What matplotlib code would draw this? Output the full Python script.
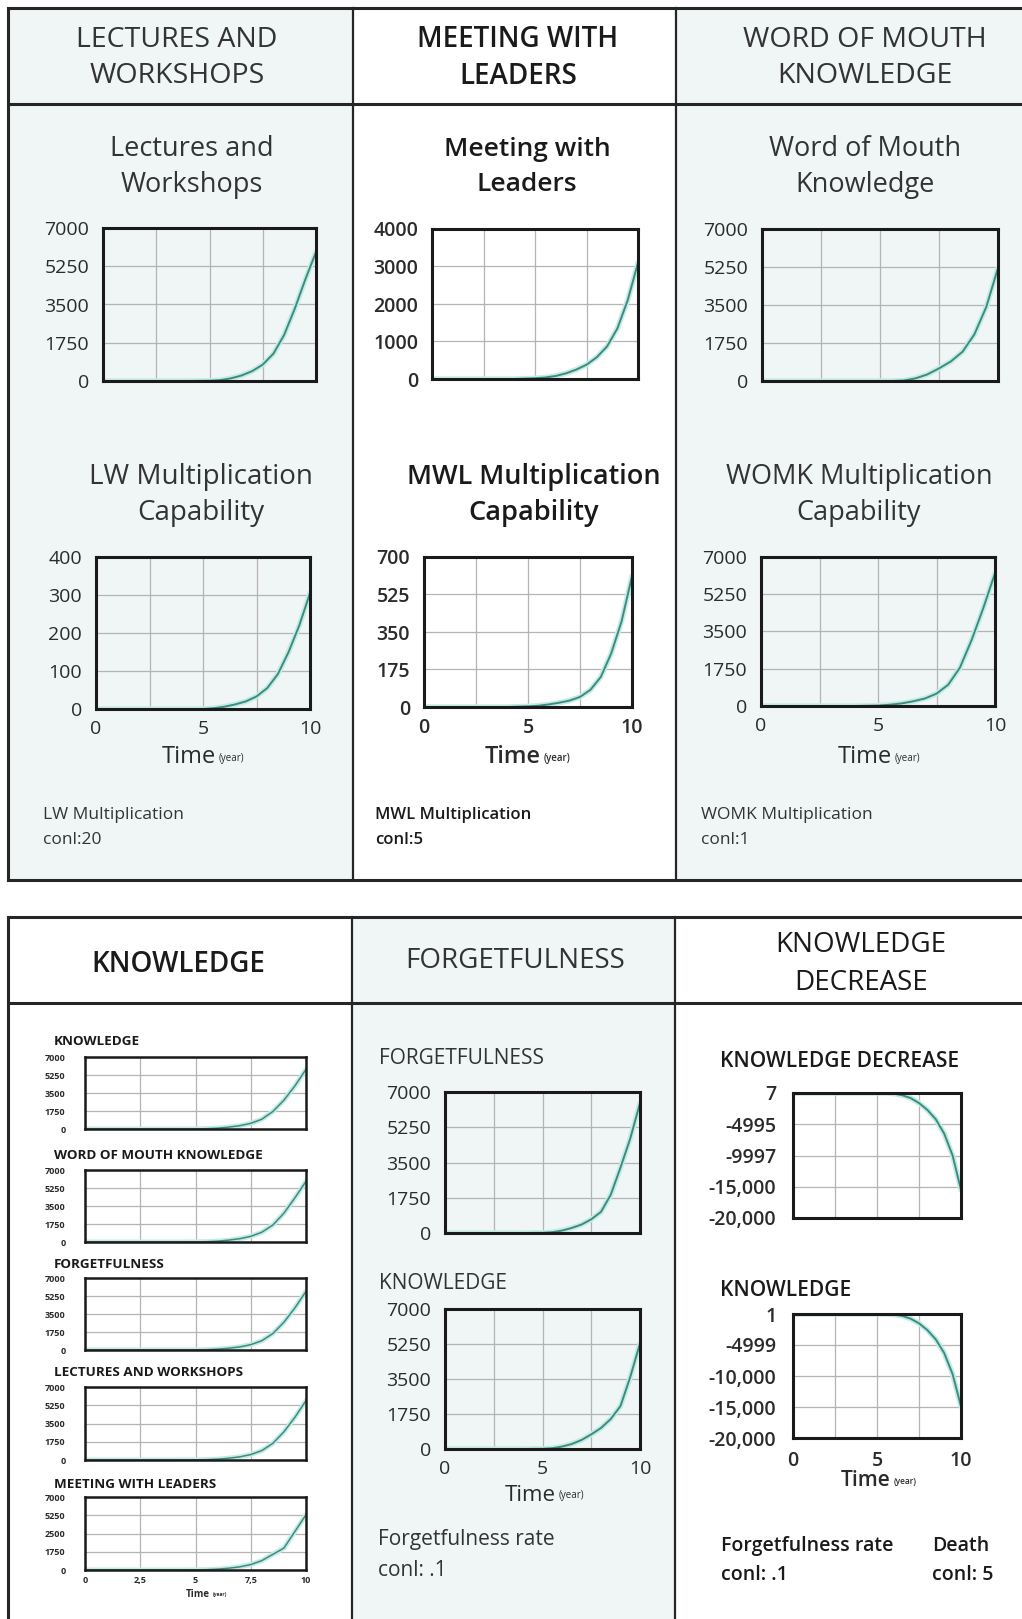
import matplotlib.pyplot as plt
from matplotlib.patches import Rectangle

W, H = 1022, 1619

# simulation time (year)
years = [0, 1, 2, 3, 4, 5, 5.5, 6, 6.5, 7, 7.5, 8, 8.5, 9, 9.5, 10]

# top panel - stocks
lw_knowledge = [0, 0, 0, 0, 0, 10, 40, 120, 250, 450, 750, 1250, 2100, 3300, 4650, 5900]
mwl_knowledge = [0, 0, 0, 0, 0, 20, 40, 80, 150, 250, 380, 580, 870, 1350, 2100, 3100]
womk_knowledge = [0, 0, 0, 0, 0, 0, 0, 20, 120, 300, 580, 900, 1350, 2150, 3400, 5200]

# top panel - multiplication capability
lw_mult = [0, 0, 0, 0, 0, 0, 2, 6, 12, 20, 33, 55, 92, 150, 220, 305]
mwl_mult = [0, 0, 0, 0, 0, 3, 6, 12, 20, 30, 47, 80, 140, 250, 400, 610]
womk_mult = [0, 0, 0, 0, 0, 20, 60, 120, 220, 350, 580, 1000, 1800, 3100, 4600, 6240]

# bottom panel - left column summary
sum_titles = ["KNOWLEDGE", "WORD OF MOUTH KNOWLEDGE", "FORGETFULNESS",
              "LECTURES AND WORKSHOPS", "MEETING WITH LEADERS"]
sum_knowledge = [0, 0, 0, 0, 0, 10, 30, 80, 180, 320, 550, 950, 1700, 2800, 4200, 5800]
sum_womk = [0, 0, 0, 0, 0, 10, 30, 80, 180, 320, 550, 950, 1650, 2800, 4300, 5900]
sum_forget = [0, 0, 0, 0, 0, 10, 30, 80, 170, 300, 520, 900, 1600, 2700, 4100, 5700]
sum_lw = [0, 0, 0, 0, 0, 10, 30, 80, 170, 300, 520, 900, 1600, 2700, 4100, 5700]
sum_mwl = [0, 0, 0, 0, 0, 10, 30, 80, 170, 300, 520, 900, 1500, 2100, 3700, 5300]
sum_series = [sum_knowledge, sum_womk, sum_forget, sum_lw, sum_mwl]
sum_ylabels = [["0", "1750", "3500", "5250", "7000"]] * 4 + [["0", "1750", "2500", "5250", "7000"]]

# bottom panel - forgetfulness column
forgetfulness = [0, 0, 0, 0, 0, 10, 40, 120, 250, 420, 680, 1050, 1900, 3250, 4690, 6450]
knowledge_f = [0, 0, 0, 0, 0, 10, 40, 120, 250, 450, 730, 1050, 1500, 2150, 3600, 5280]

# bottom panel - knowledge decrease column
knowledge_decrease = [7, 7, 7, 7, 7, 7, 7, -100, -350, -800, -1600, -2700, -4200, -6500, -10000, -15500]
knowledge_d = [1, 1, 1, 1, 1, 1, 1, -100, -300, -750, -1500, -2600, -4100, -6300, -9700, -14900]

ticks_7000 = [0, 1750, 3500, 5250, 7000]

PANEL = "#f0f5f6"
EDGE = "#262626"
GRID = "#b4b4b4"
TEAL = "#3b8c80"
GLOW = "#c6ebe5"
TXT = "#2b2b2b"

plt.rcParams['font.family'] = ['Open Sans', 'DejaVu Sans']

fig = plt.figure(figsize=(W / 100, H / 100), dpi=100)
fig.patch.set_facecolor("white")
bg = fig.add_axes([0, 0, 1, 1])
bg.set_xlim(0, W)
bg.set_ylim(H, 0)
bg.axis("off")

# panel backgrounds and frames
bg.add_patch(Rectangle((8, 8), 345, 872, facecolor=PANEL, edgecolor="none"))
bg.add_patch(Rectangle((676, 8), 360, 872, facecolor=PANEL, edgecolor="none"))
bg.add_patch(Rectangle((352, 917), 323, 720, facecolor=PANEL, edgecolor="none"))
for y in [8, 104, 880]:
    bg.plot([8, W + 5], [y, y], color=EDGE, lw=2.2)
for x in [8, 353, 676]:
    bg.plot([x, x], [8, 880], color=EDGE, lw=2.2 if x == 8 else 1.6)
for y in [917, 1003]:
    bg.plot([8, W + 5], [y, y], color=EDGE, lw=2.2)
for x in [8, 352, 675]:
    bg.plot([x, x], [917, H + 5], color=EDGE, lw=2.2 if x == 8 else 1.6)


def box_axes(x0, y0, x1, y1):
    return fig.add_axes([x0 / W, 1 - y1 / H, (x1 - x0) / W, (y1 - y0) / H])


def chart(box, values, ylim, yticks, ylabels, xlabels=None, fs=14, weight="normal",
          spine=2.2, lw=1.4, pad=10, xpad=8):
    ax = box_axes(*box)
    ax.set_facecolor("none")
    ax.plot(years, values, color=GLOW, lw=lw + 2.5, solid_capstyle="round", zorder=3)
    ax.plot(years, values, color=TEAL, lw=lw, zorder=4)
    ax.set_xlim(0, 10)
    ax.set_ylim(*ylim)
    ax.set_xticks([0, 2.5, 5, 7.5, 10])
    ax.set_yticks(yticks)
    ax.set_yticklabels(ylabels, fontsize=fs, fontweight=weight, color=TXT)
    if xlabels is None:
        ax.set_xticklabels([])
    else:
        ax.set_xticklabels(xlabels, fontsize=fs, fontweight=weight, color=TXT)
    ax.tick_params(length=0, pad=pad)
    ax.tick_params(axis="x", pad=xpad)
    ax.grid(color=GRID, lw=0.9)
    ax.set_axisbelow(True)
    for s in ax.spines.values():
        s.set_linewidth(spine)
        s.set_color("#1a1a1a")
        s.set_zorder(5)
    return ax


def time_label(ax, y, fs_big, fs_small, weight="normal", xfrac=0.56):
    t = ax.annotate("Time", xy=(xfrac, 0), xycoords="axes fraction", xytext=(0, -y),
                    textcoords="offset pixels", ha="right", va="center",
                    fontsize=fs_big, fontweight=weight, color=TXT)
    ax.annotate("(year)", xy=(1, 0.22), xycoords=t, xytext=(2, 0), textcoords="offset points",
                ha="left", va="bottom", fontsize=fs_small, fontweight=weight, color=TXT)


# ---- top panel headers ----
bg.text(177, 58, "LECTURES AND\nWORKSHOPS", ha="center", va="center", fontsize=20.5,
        color="#333333", linespacing=1.38)
bg.text(518, 58, "MEETING WITH\nLEADERS", ha="center", va="center", fontsize=20,
        fontweight="semibold", color="#1a1a1a", linespacing=1.38)
bg.text(865, 58, "WORD OF MOUTH\nKNOWLEDGE", ha="center", va="center", fontsize=20.5,
        color="#333333", linespacing=1.38)

bg.text(192, 167, "Lectures and\nWorkshops", ha="center", va="center", fontsize=19.5,
        color="#333333", linespacing=1.35)
bg.text(527, 167, "Meeting with\nLeaders", ha="center", va="center", fontsize=19,
        fontweight="semibold", color="#1a1a1a", linespacing=1.5)
bg.text(865, 167, "Word of Mouth\nKnowledge", ha="center", va="center", fontsize=19.5,
        color="#333333", linespacing=1.35)

chart((103, 228, 316, 381), lw_knowledge, (0, 7000), ticks_7000,
      ["0", "1750", "3500", "5250", "7000"])
chart((432, 229, 638, 379), mwl_knowledge, (0, 4000), [0, 1000, 2000, 3000, 4000],
      ["0", "1000", "2000", "3000", "4000"], weight="semibold")
chart((762, 229, 998, 381), womk_knowledge, (0, 7000), ticks_7000,
      ["0", "1750", "3500", "5250", "7000"])

bg.text(201, 495, "LW Multiplication\nCapability", ha="center", va="center", fontsize=20,
        color="#333333", linespacing=1.38)
bg.text(534, 495, "MWL Multiplication\nCapability", ha="center", va="center", fontsize=19.5,
        fontweight="semibold", color="#1a1a1a", linespacing=1.38)
bg.text(859, 495, "WOMK Multiplication\nCapability", ha="center", va="center", fontsize=19.5,
        color="#333333", linespacing=1.38)

a = chart((96, 557, 310, 709), lw_mult, (0, 400), [0, 100, 200, 300, 400],
          ["0", "100", "200", "300", "400"], xlabels=["0", "", "5", "", "10"])
time_label(a, 48, 17, 7)
a = chart((424, 557, 632, 707), mwl_mult, (0, 700), [0, 175, 350, 525, 700],
          ["0", "175", "350", "525", "700"], xlabels=["0", "", "5", "", "10"], weight="semibold")
time_label(a, 50, 17, 7, weight="semibold")
a = chart((761, 557, 995, 706), womk_mult, (0, 7000), ticks_7000,
          ["0", "1750", "3500", "5250", "7000"], xlabels=["0", "", "5", "", "10"])
time_label(a, 51, 17, 7)

bg.text(43, 827, "LW Multiplication\nconl:20", ha="left", va="center", fontsize=12.5,
        color="#333333", linespacing=1.75)
bg.text(375, 827, "MWL Multiplication\nconl:5", ha="left", va="center", fontsize=12,
        fontweight="semibold", color="#1a1a1a", linespacing=1.75)
bg.text(701, 827, "WOMK Multiplication\nconl:1", ha="left", va="center", fontsize=12.5,
        color="#333333", linespacing=1.75)

# ---- bottom panel headers ----
bg.text(178, 964, "KNOWLEDGE", ha="center", va="center", fontsize=20,
        fontweight="semibold", color="#1a1a1a")
bg.text(515, 961, "FORGETFULNESS", ha="center", va="center", fontsize=20,
        color="#333333")
bg.text(861, 964, "KNOWLEDGE\nDECREASE", ha="center", va="center", fontsize=20,
        color="#1a1a1a", linespacing=1.45)

# left column: five small summary charts
sum_boxes = [(85, 1057, 306, 1129), (85, 1170, 306, 1242), (85, 1278, 306, 1350),
             (85, 1387, 306, 1460), (85, 1497, 306, 1570)]
sum_title_y = [1041, 1155, 1264, 1372, 1484]
for i in range(5):
    xl = ["0", "2,5", "5", "7,5", "10"] if i == 4 else None
    a = chart(sum_boxes[i], sum_series[i], (0, 7000), ticks_7000, sum_ylabels[i], xlabels=xl,
              fs=6.5, weight="bold", spine=1.8, lw=1.1, pad=14, xpad=4)
    bg.text(54, sum_title_y[i], sum_titles[i], ha="left", va="center", fontsize=9.7,
            fontweight="bold", color="#1a1a1a")
    if i == 4:
        time_label(a, 24, 7, 3.5, weight="bold", xfrac=0.565)

# middle column
bg.text(379, 1058, "FORGETFULNESS", ha="left", va="center", fontsize=15, color="#333333")
chart((445, 1092, 640, 1233), forgetfulness, (0, 7000), ticks_7000,
      ["0", "1750", "3500", "5250", "7000"])
bg.text(379, 1283, "KNOWLEDGE", ha="left", va="center", fontsize=15, color="#333333")
a = chart((445, 1309, 640, 1449), knowledge_f, (0, 7000), ticks_7000,
          ["0", "1750", "3500", "5250", "7000"], xlabels=["0", "", "5", "", "10"])
time_label(a, 46, 16, 7, xfrac=0.57)
bg.text(378, 1555, "Forgetfulness rate\nconl: .1", ha="left", va="center", fontsize=15,
        color="#333333", linespacing=1.65)

# right column
bg.text(720, 1061, "KNOWLEDGE DECREASE", ha="left", va="center", fontsize=15,
        fontweight="semibold", color="#1a1a1a")
chart((793, 1093, 961, 1218), knowledge_decrease, (-20000, 7), [-20000, -15000, -9997, -4995, 7],
      ["-20,000", "-15,000", "-9997", "-4995", "7"], weight="semibold", pad=12)
bg.text(720, 1290, "KNOWLEDGE", ha="left", va="center", fontsize=15,
        fontweight="semibold", color="#1a1a1a")
a = chart((793, 1314, 961, 1438), knowledge_d, (-20000, 1), [-20000, -15000, -10000, -4999, 1],
          ["-20,000", "-15,000", "-10,000", "-4999", "1"], xlabels=["0", "", "5", "", "10"],
          weight="semibold", pad=12, xpad=9)
time_label(a, 42, 15, 6, weight="semibold", xfrac=0.58)
bg.text(721, 1560, "Forgetfulness rate\nconl: .1", ha="left", va="center", fontsize=14,
        fontweight="semibold", color="#1a1a1a", linespacing=1.6)
bg.text(932, 1560, "Death\nconl: 5", ha="left", va="center", fontsize=14,
        fontweight="semibold", color="#1a1a1a", linespacing=1.6)

fig.savefig("out.png", dpi=100)
